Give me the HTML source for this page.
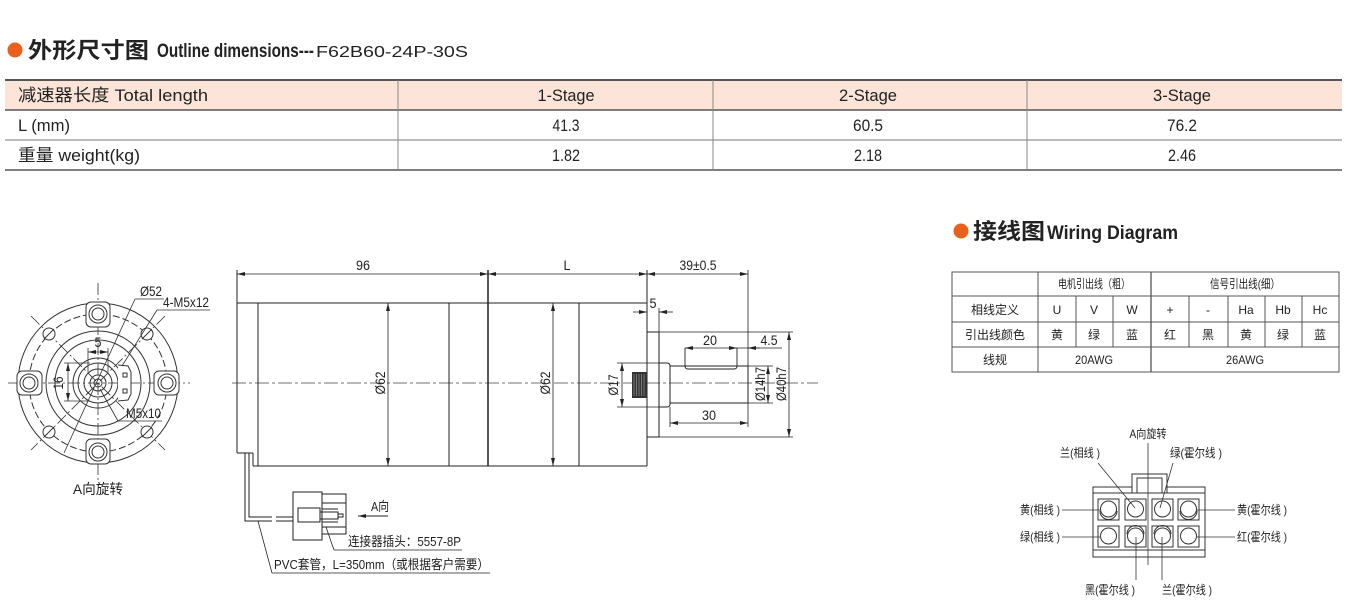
<!DOCTYPE html>
<html><head><meta charset="utf-8"><style>
html,body{margin:0;padding:0;background:#fff;}
svg{display:block;}
text{font-family:"Liberation Sans","Noto Sans CJK SC",sans-serif;fill:#222;}
</style></head><body>
<svg width="1348" height="612" viewBox="0 0 1348 612" xmlns="http://www.w3.org/2000/svg">
<defs>
<marker id="a" viewBox="0 0 8 4" refX="8" refY="2" markerWidth="8" markerHeight="4" orient="auto-start-reverse" markerUnits="userSpaceOnUse"><path d="M0,0 L8,2 L0,4z" fill="#222"/></marker>
</defs>

<!-- Title -->
<circle cx="15" cy="50" r="7.5" fill="#e8601c"/>
<text x="28" y="58" font-size="22" font-weight="bold" textLength="121" lengthAdjust="spacingAndGlyphs" fill="#111">外形尺寸图</text>
<text x="157" y="57" font-size="19" font-weight="bold" textLength="157" lengthAdjust="spacingAndGlyphs" fill="#111">Outline dimensions---</text>
<text x="316" y="57" font-size="16" textLength="152" lengthAdjust="spacingAndGlyphs" fill="#111">F62B60-24P-30S</text>

<!-- Spec table -->
<rect x="5" y="80" width="1337" height="30" fill="#fce5d8"/>
<line x1="5" y1="80" x2="1342" y2="80" stroke="#555" stroke-width="2"/>
<line x1="5" y1="110" x2="1342" y2="110" stroke="#555" stroke-width="1.5"/>
<line x1="5" y1="140" x2="1342" y2="140" stroke="#777" stroke-width="1"/>
<line x1="5" y1="170" x2="1342" y2="170" stroke="#555" stroke-width="1.5"/>
<g stroke="#888" stroke-width="1">
<line x1="398" y1="80" x2="398" y2="170"/>
<line x1="713" y1="80" x2="713" y2="170"/>
<line x1="1027" y1="80" x2="1027" y2="170"/>
</g>
<g font-size="17" fill="#333">
<text x="18" y="101" textLength="190" lengthAdjust="spacingAndGlyphs">减速器长度 Total length</text>
<text x="18" y="131" textLength="52" lengthAdjust="spacingAndGlyphs">L (mm)</text>
<text x="18" y="161" textLength="122" lengthAdjust="spacingAndGlyphs">重量 weight(kg)</text>
<g text-anchor="middle">
<text x="566" y="101" textLength="57" lengthAdjust="spacingAndGlyphs">1-Stage</text>
<text x="868" y="101" textLength="58" lengthAdjust="spacingAndGlyphs">2-Stage</text>
<text x="1182" y="101" textLength="58" lengthAdjust="spacingAndGlyphs">3-Stage</text>
<text x="566" y="131" textLength="27" lengthAdjust="spacingAndGlyphs">41.3</text>
<text x="868" y="131" textLength="30" lengthAdjust="spacingAndGlyphs">60.5</text>
<text x="1182" y="131" textLength="30" lengthAdjust="spacingAndGlyphs">76.2</text>
<text x="566" y="161" textLength="28" lengthAdjust="spacingAndGlyphs">1.82</text>
<text x="868" y="161" textLength="28" lengthAdjust="spacingAndGlyphs">2.18</text>
<text x="1182" y="161" textLength="28" lengthAdjust="spacingAndGlyphs">2.46</text>
</g>
</g>

<!-- Left end view -->
<g stroke="#333" fill="none" stroke-width="1">
<circle cx="98" cy="383" r="80"/>
<circle cx="98" cy="383" r="69" stroke-dasharray="7 3"/>
<circle cx="98" cy="383" r="52"/>
<circle cx="98" cy="383" r="43"/>
<circle cx="98" cy="383" r="25"/>
<circle cx="98" cy="383" r="20"/>
<circle cx="98" cy="383" r="14"/>
<circle cx="98" cy="383" r="8"/>
<circle cx="98" cy="383" r="4"/>
<!-- center lines -->
<g stroke-dasharray="12 3 2 3" stroke-width="0.8">
<line x1="8" y1="383" x2="190" y2="383"/>
<line x1="98" y1="283" x2="98" y2="480"/>
<line x1="31" y1="316" x2="165" y2="450"/>
<line x1="165" y1="316" x2="31" y2="450"/>
</g>
<!-- lugs -->
<g fill="#fff">
<rect x="86" y="302" width="24" height="25" rx="5"/>
<rect x="86" y="439" width="24" height="25" rx="5"/>
<rect x="17" y="371" width="25" height="24" rx="5"/>
<rect x="154" y="371" width="25" height="24" rx="5"/>
</g>
<circle cx="98" cy="314" r="9"/><circle cx="98" cy="314" r="6"/>
<circle cx="98" cy="452" r="9"/><circle cx="98" cy="452" r="6"/>
<circle cx="29" cy="383" r="9"/><circle cx="29" cy="383" r="6"/>
<circle cx="167" cy="383" r="9"/><circle cx="167" cy="383" r="6"/>
<!-- diagonal holes -->
<circle cx="49" cy="334" r="6" fill="#fff"/>
<circle cx="147" cy="334" r="6" fill="#fff"/>
<circle cx="49" cy="432" r="6" fill="#fff"/>
<circle cx="147" cy="432" r="6" fill="#fff"/>
<line x1="44" y1="339" x2="54" y2="329"/>
<line x1="142" y1="339" x2="152" y2="329"/>
<line x1="44" y1="437" x2="54" y2="427"/>
<line x1="142" y1="437" x2="152" y2="427"/>
<!-- hub tab -->
<path d="M118,365 L128,366 L131,372 L131,394 L128,400 L118,401" fill="#fff"/>
<rect x="123" y="373" width="4" height="4"/>
<rect x="123" y="389" width="4" height="4"/>
<!-- dim 5 -->
<line x1="88" y1="348" x2="88" y2="372" stroke-width="0.8"/>
<line x1="108" y1="348" x2="108" y2="372" stroke-width="0.8"/>
<line x1="88" y1="352" x2="108" y2="352" marker-start="url(#a)" marker-end="url(#a)" stroke-width="0.8"/>
<!-- dim 16 -->
<line x1="64" y1="363" x2="90" y2="363" stroke-width="0.8"/>
<line x1="64" y1="401" x2="90" y2="401" stroke-width="0.8"/>
<line x1="68" y1="363" x2="68" y2="401" marker-start="url(#a)" marker-end="url(#a)" stroke-width="0.8"/>
<!-- leaders -->
<line x1="135" y1="299" x2="64" y2="453" stroke-width="0.8"/>
<line x1="135" y1="299" x2="164" y2="299" stroke-width="0.8"/>
<line x1="157" y1="310" x2="122" y2="366" stroke-width="0.8"/>
<line x1="157" y1="310" x2="210" y2="310" stroke-width="0.8"/>
<line x1="118" y1="421" x2="100" y2="389" stroke-width="0.8"/>
<line x1="118" y1="421" x2="162" y2="421" stroke-width="0.8"/>
</g>
<g font-size="14">
<text x="98" y="347" text-anchor="middle" textLength="7" lengthAdjust="spacingAndGlyphs">5</text>
<text transform="translate(63,383) rotate(-90)" text-anchor="middle" textLength="13" lengthAdjust="spacingAndGlyphs">16</text>
<text x="140" y="296" textLength="22" lengthAdjust="spacingAndGlyphs">Ø52</text>
<text x="163" y="307" textLength="46" lengthAdjust="spacingAndGlyphs">4-M5x12</text>
<text x="126" y="418" textLength="35" lengthAdjust="spacingAndGlyphs">M5x10</text>
<text x="98" y="494" text-anchor="middle" textLength="50" lengthAdjust="spacingAndGlyphs">A向旋转</text>
</g>

<!-- Main side view -->
<g stroke="#222" fill="none" stroke-width="1">
<line x1="232" y1="383" x2="818" y2="383" stroke-dasharray="14 3 3 3" stroke-width="0.8" stroke="#444"/>
<!-- body -->
<line x1="237" y1="303" x2="647" y2="303"/>
<line x1="253" y1="466" x2="647" y2="466"/>
<line x1="237" y1="270" x2="237" y2="453"/>
<line x1="237" y1="453" x2="253" y2="453"/>
<line x1="253" y1="453" x2="253" y2="466"/>
<line x1="258" y1="303" x2="258" y2="466"/>
<line x1="388" y1="303" x2="388" y2="466" stroke-width="0.8" marker-start="url(#a)" marker-end="url(#a)"/>
<line x1="449" y1="303" x2="449" y2="466"/>
<line x1="488" y1="270" x2="488" y2="466" stroke-width="1.5"/>
<line x1="553" y1="303" x2="553" y2="466" stroke-width="0.8" marker-start="url(#a)" marker-end="url(#a)"/>
<line x1="579" y1="303" x2="579" y2="466"/>
<line x1="647" y1="270" x2="647" y2="466"/>
<!-- top dims -->
<line x1="237" y1="274" x2="488" y2="274" stroke-width="0.8" marker-start="url(#a)" marker-end="url(#a)"/>
<line x1="488" y1="274" x2="647" y2="274" stroke-width="0.8" marker-start="url(#a)" marker-end="url(#a)"/>
<line x1="647" y1="274" x2="748" y2="274" stroke-width="0.8" marker-start="url(#a)" marker-end="url(#a)"/>
<line x1="748" y1="270" x2="748" y2="427" stroke-width="0.8"/>
<!-- flange -->
<rect x="647" y="332" width="12" height="105"/>
<line x1="659" y1="332" x2="793" y2="332" stroke-width="0.8"/>
<line x1="659" y1="437" x2="793" y2="437" stroke-width="0.8"/>
<line x1="659" y1="308" x2="659" y2="332" stroke-width="0.8"/>
<line x1="633" y1="312" x2="647" y2="312" stroke-width="0.8" marker-end="url(#a)"/>
<line x1="673" y1="312" x2="659" y2="312" stroke-width="0.8" marker-end="url(#a)"/>
<!-- collar & shaft -->
<path d="M659,363 H667 Q670,363 670,366 V404 Q670,407 667,407 H659"/>
<rect x="670" y="366" width="78" height="37"/>
<path d="M685,348 V366 M737,348 V366 M685,366 Q685,369 688,369 H734 Q737,369 737,366" stroke-width="0.9"/>
<!-- O17 -->
<line x1="617" y1="363" x2="659" y2="363" stroke-width="0.8"/>
<line x1="617" y1="407" x2="659" y2="407" stroke-width="0.8"/>
<line x1="622" y1="363" x2="622" y2="407" stroke-width="0.8" marker-start="url(#a)" marker-end="url(#a)"/>
<!-- 20 / 4.5 -->
<line x1="685" y1="348" x2="737" y2="348" stroke-width="0.8" marker-start="url(#a)" marker-end="url(#a)"/>
<line x1="737" y1="348" x2="782" y2="348" stroke-width="0.8"/>
<line x1="760" y1="348" x2="748" y2="348" stroke-width="0.8" marker-end="url(#a)"/>
<!-- 30 -->
<line x1="670" y1="407" x2="670" y2="427" stroke-width="0.8"/>
<line x1="670" y1="423" x2="748" y2="423" stroke-width="0.8" marker-start="url(#a)" marker-end="url(#a)"/>
<!-- O14 / O40 -->
<line x1="748" y1="366" x2="773" y2="366" stroke-width="0.8"/>
<line x1="748" y1="403" x2="773" y2="403" stroke-width="0.8"/>
<line x1="768" y1="366" x2="768" y2="403" stroke-width="0.8" marker-start="url(#a)" marker-end="url(#a)"/>
<line x1="789" y1="332" x2="789" y2="437" stroke-width="0.8" marker-start="url(#a)" marker-end="url(#a)"/>
</g>
<!-- gear -->
<rect x="632" y="372" width="15" height="26" fill="#333"/>
<g stroke="#aaa" stroke-width="0.6">
<line x1="634" y1="374" x2="634" y2="396"/><line x1="636.5" y1="374" x2="636.5" y2="396"/>
<line x1="639" y1="374" x2="639" y2="396"/><line x1="641.5" y1="374" x2="641.5" y2="396"/>
<line x1="644" y1="374" x2="644" y2="396"/>
</g>
<g font-size="14">
<text x="363" y="270" text-anchor="middle" textLength="14" lengthAdjust="spacingAndGlyphs">96</text>
<text x="567" y="270" text-anchor="middle" textLength="7" lengthAdjust="spacingAndGlyphs">L</text>
<text x="698" y="270" text-anchor="middle" textLength="37" lengthAdjust="spacingAndGlyphs">39±0.5</text>
<text x="653" y="308" text-anchor="middle" textLength="7" lengthAdjust="spacingAndGlyphs">5</text>
<text x="710" y="345" text-anchor="middle" textLength="14" lengthAdjust="spacingAndGlyphs">20</text>
<text x="769" y="345" text-anchor="middle" textLength="17" lengthAdjust="spacingAndGlyphs">4.5</text>
<text x="709" y="420" text-anchor="middle" textLength="14" lengthAdjust="spacingAndGlyphs">30</text>
<text transform="translate(385,383) rotate(-90)" text-anchor="middle" textLength="23" lengthAdjust="spacingAndGlyphs">Ø62</text>
<text transform="translate(550,383) rotate(-90)" text-anchor="middle" textLength="23" lengthAdjust="spacingAndGlyphs">Ø62</text>
<text transform="translate(618,385) rotate(-90)" text-anchor="middle" textLength="21" lengthAdjust="spacingAndGlyphs">Ø17</text>
<text transform="translate(765,384) rotate(-90)" text-anchor="middle" textLength="34" lengthAdjust="spacingAndGlyphs">Ø14h7</text>
<text transform="translate(786,384) rotate(-90)" text-anchor="middle" textLength="34" lengthAdjust="spacingAndGlyphs">Ø40h7</text>
</g>

<!-- Cable and connector -->
<g stroke="#222" fill="none" stroke-width="1">
<path d="M245,453 V521 H272"/>
<path d="M249,453 V517 H272"/>
<path d="M276,517 H293 M276,521 H293"/>
<rect x="293" y="492" width="29" height="48" fill="#fff"/>
<rect x="298" y="508" width="22" height="14"/>
<rect x="320" y="512" width="18" height="7"/>
<rect x="338" y="514" width="5" height="3"/>
<rect x="322" y="494" width="24" height="40"/>
<line x1="322" y1="503" x2="346" y2="503"/>
<line x1="322" y1="509" x2="338" y2="509"/>
<line x1="322" y1="522" x2="338" y2="522"/>
<line x1="322" y1="527" x2="346" y2="527"/>
<line x1="388" y1="516" x2="358" y2="516" marker-end="url(#a)"/>
<line x1="326" y1="527" x2="334" y2="550" stroke-width="0.8"/>
<line x1="334" y1="550" x2="462" y2="550" stroke-width="0.8"/>
<line x1="258" y1="521" x2="272" y2="573" stroke-width="0.8"/>
<line x1="272" y1="573" x2="490" y2="573" stroke-width="0.8"/>
</g>
<g font-size="13">
<text x="371" y="511" textLength="18" lengthAdjust="spacingAndGlyphs">A向</text>
<text x="348" y="546" textLength="113" lengthAdjust="spacingAndGlyphs">连接器插头：5557-8P</text>
<text x="274" y="569" textLength="215" lengthAdjust="spacingAndGlyphs">PVC套管，L=350mm（或根据客户需要）</text>
</g>

<!-- Wiring diagram title -->
<circle cx="961" cy="231" r="7.5" fill="#e8601c"/>
<text x="973" y="239" font-size="22" font-weight="bold" textLength="72" lengthAdjust="spacingAndGlyphs" fill="#111">接线图</text>
<text x="1047" y="239" font-size="19" font-weight="bold" textLength="131" lengthAdjust="spacingAndGlyphs" fill="#111">Wiring Diagram</text>

<!-- Wiring table -->
<g stroke="#555" stroke-width="1" fill="none">
<rect x="952" y="272" width="387" height="100"/>
<line x1="952" y1="296" x2="1339" y2="296"/>
<line x1="952" y1="322" x2="1339" y2="322"/>
<line x1="952" y1="347" x2="1339" y2="347"/>
<line x1="1038" y1="272" x2="1038" y2="372"/>
<line x1="1151" y1="272" x2="1151" y2="372" stroke-width="1.3"/>
<line x1="1076" y1="296" x2="1076" y2="347"/>
<line x1="1113" y1="296" x2="1113" y2="347"/>
<line x1="1189" y1="296" x2="1189" y2="347"/>
<line x1="1228" y1="296" x2="1228" y2="347"/>
<line x1="1265" y1="296" x2="1265" y2="347"/>
<line x1="1302" y1="296" x2="1302" y2="347"/>
</g>
<g font-size="12" text-anchor="middle" fill="#333">
<text x="1094" y="288" textLength="72" lengthAdjust="spacingAndGlyphs">电机引出线（粗）</text>
<text x="1245" y="288" textLength="70" lengthAdjust="spacingAndGlyphs">信号引出线(细）</text>
<text x="995" y="314">相线定义</text>
<text x="1057" y="314">U</text><text x="1094" y="314">V</text><text x="1132" y="314">W</text>
<text x="1170" y="314">+</text><text x="1208" y="314">-</text><text x="1246" y="314">Ha</text>
<text x="1283" y="314">Hb</text><text x="1320" y="314">Hc</text>
<text x="995" y="339">引出线颜色</text>
<text x="1057" y="339">黄</text><text x="1094" y="339">绿</text><text x="1132" y="339">蓝</text>
<text x="1170" y="339">红</text><text x="1208" y="339">黑</text><text x="1246" y="339">黄</text>
<text x="1283" y="339">绿</text><text x="1320" y="339">蓝</text>
<text x="995" y="364">线规</text>
<text x="1094" y="364" textLength="38" lengthAdjust="spacingAndGlyphs">20AWG</text>
<text x="1245" y="364" textLength="38" lengthAdjust="spacingAndGlyphs">26AWG</text>
</g>

<!-- Connector face diagram -->
<g stroke="#333" fill="none" stroke-width="1">
<rect x="1093" y="487" width="112" height="70" fill="#fff"/>
<line x1="1093" y1="493" x2="1205" y2="493"/>
<line x1="1093" y1="550" x2="1205" y2="550"/>
<rect x="1132" y="474" width="35" height="19" fill="#fff"/>
<path d="M1137,493 V478 H1162 V493"/>
<g fill="#fff">
<rect x="1098" y="499" width="21" height="21"/><rect x="1125" y="499" width="21" height="21"/>
<rect x="1152" y="499" width="21" height="21"/><rect x="1178" y="499" width="21" height="21"/>
<rect x="1098" y="526" width="21" height="21"/><rect x="1125" y="526" width="21" height="21"/>
<rect x="1152" y="526" width="21" height="21"/><rect x="1178" y="526" width="21" height="21"/>
</g>
<circle cx="1108.5" cy="509" r="8"/><circle cx="1135.5" cy="509" r="8"/>
<circle cx="1162.5" cy="509" r="8"/><circle cx="1188.5" cy="509" r="8"/>
<circle cx="1108.5" cy="536" r="8"/><circle cx="1135.5" cy="536" r="8"/>
<circle cx="1162.5" cy="536" r="8"/><circle cx="1188.5" cy="536" r="8"/>
<path d="M1100,511 A8.5,8.5 0 0 0 1117,511"/>
<path d="M1180,511 A8.5,8.5 0 0 0 1197,511"/>
<path d="M1127,534 A8.5,8.5 0 0 1 1144,534"/>
<path d="M1154,534 A8.5,8.5 0 0 1 1171,534"/>
<line x1="1148" y1="443" x2="1148" y2="565" stroke-width="0.8"/>
<line x1="1098" y1="463" x2="1135" y2="508" stroke-width="0.8"/>
<line x1="1173" y1="463" x2="1160" y2="508" stroke-width="0.8"/>
<line x1="1062" y1="510" x2="1100" y2="510" stroke-width="0.8"/>
<line x1="1062" y1="537" x2="1100" y2="537" stroke-width="0.8"/>
<line x1="1196" y1="510" x2="1235" y2="510" stroke-width="0.8"/>
<line x1="1196" y1="537" x2="1235" y2="537" stroke-width="0.8"/>
<line x1="1136" y1="537" x2="1136" y2="580" stroke-width="0.8"/>
<line x1="1162" y1="537" x2="1162" y2="580" stroke-width="0.8"/>
</g>
<g font-size="12" text-anchor="middle" fill="#333">
<text x="1148" y="438" textLength="37" lengthAdjust="spacingAndGlyphs">A向旋转</text>
<text x="1080" y="457" textLength="40" lengthAdjust="spacingAndGlyphs">兰(相线 )</text>
<text x="1196" y="457" textLength="52" lengthAdjust="spacingAndGlyphs">绿(霍尔线 )</text>
<text x="1040" y="514" textLength="40" lengthAdjust="spacingAndGlyphs">黄(相线 )</text>
<text x="1040" y="541" textLength="40" lengthAdjust="spacingAndGlyphs">绿(相线 )</text>
<text x="1262" y="514" textLength="50" lengthAdjust="spacingAndGlyphs">黄(霍尔线 )</text>
<text x="1262" y="541" textLength="50" lengthAdjust="spacingAndGlyphs">红(霍尔线 )</text>
<text x="1110" y="594" textLength="50" lengthAdjust="spacingAndGlyphs">黑(霍尔线 )</text>
<text x="1187" y="594" textLength="50" lengthAdjust="spacingAndGlyphs">兰(霍尔线 )</text>
</g>
</svg>
</body></html>
